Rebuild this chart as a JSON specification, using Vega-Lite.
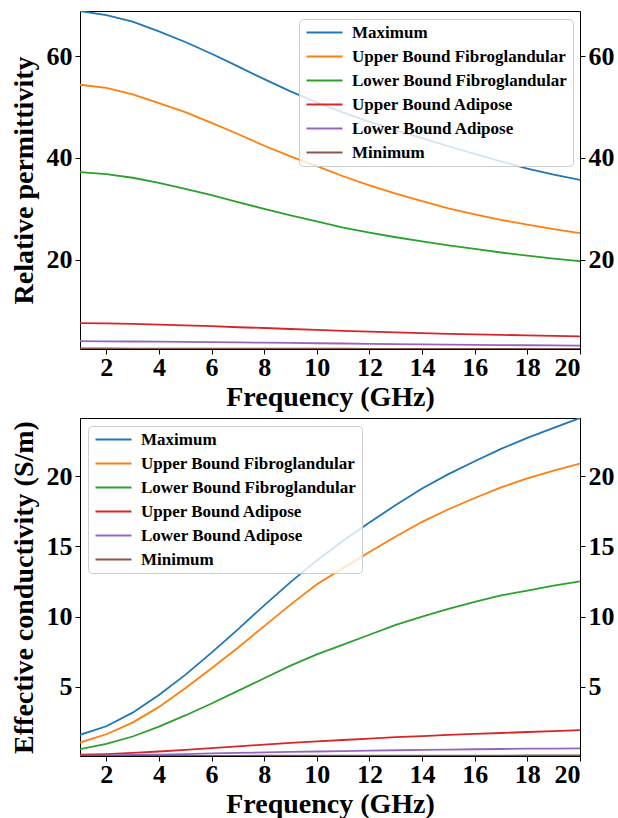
{
  "$schema": "https://vega.github.io/schema/vega-lite/v6.json",
  "padding": {"left": 9, "top": 10, "right": 5, "bottom": 0},
  "background": "white",
  "config": {
    "font": "Liberation Serif",
    "view": {"stroke": "black", "strokeWidth": 1},
    "axis": {"labelFont": "Liberation Serif", "labelFontSize": 26, "labelFontWeight": "bold", "labelColor": "black",
             "titleFont": "Liberation Serif", "titleFontSize": 28, "titleFontWeight": "bold", "titleColor": "black",
             "domainColor": "black", "tickColor": "black", "tickSize": 5, "grid": false, "labelPadding": 3},
    "axisX": {"titlePadding": 3, "labelPadding": 0},
    "axisLeft": {"titlePadding": 8},
    "legend": {"labelFont": "Liberation Serif", "labelFontSize": 17, "labelFontWeight": "bold", "labelColor": "black", "labelLimit": 0,
               "symbolType": "M-3,0H3", "symbolSize": 144, "symbolStrokeWidth": 1.8, "symbolOffset": 12, "labelOffset": 19, "rowPadding": 6,
               "padding": 5, "fillColor": "rgba(255,255,255,0.8)", "strokeColor": "#cccccc", "cornerRadius": 4, "symbolOpacity": 1}
  },
  "datasets": {
    "perm": [
      {"freq":1,"series":"Maximum","value":68.9},{"freq":2,"series":"Maximum","value":68.1},{"freq":3,"series":"Maximum","value":66.8},{"freq":4,"series":"Maximum","value":64.9},{"freq":5,"series":"Maximum","value":62.8},{"freq":6,"series":"Maximum","value":60.5},{"freq":7,"series":"Maximum","value":58.0},{"freq":8,"series":"Maximum","value":55.5},{"freq":9,"series":"Maximum","value":53.1},{"freq":10,"series":"Maximum","value":50.9},{"freq":11,"series":"Maximum","value":48.9},{"freq":12,"series":"Maximum","value":47.1},{"freq":13,"series":"Maximum","value":45.4},{"freq":14,"series":"Maximum","value":43.9},{"freq":15,"series":"Maximum","value":42.3},{"freq":16,"series":"Maximum","value":40.8},{"freq":17,"series":"Maximum","value":39.3},{"freq":18,"series":"Maximum","value":37.9},{"freq":19,"series":"Maximum","value":36.7},{"freq":20,"series":"Maximum","value":35.7},
      {"freq":1,"series":"Upper Bound Fibroglandular","value":54.4},{"freq":2,"series":"Upper Bound Fibroglandular","value":53.8},{"freq":3,"series":"Upper Bound Fibroglandular","value":52.5},{"freq":4,"series":"Upper Bound Fibroglandular","value":50.8},{"freq":5,"series":"Upper Bound Fibroglandular","value":49.0},{"freq":6,"series":"Upper Bound Fibroglandular","value":46.9},{"freq":7,"series":"Upper Bound Fibroglandular","value":44.7},{"freq":8,"series":"Upper Bound Fibroglandular","value":42.4},{"freq":9,"series":"Upper Bound Fibroglandular","value":40.3},{"freq":10,"series":"Upper Bound Fibroglandular","value":38.4},{"freq":11,"series":"Upper Bound Fibroglandular","value":36.4},{"freq":12,"series":"Upper Bound Fibroglandular","value":34.6},{"freq":13,"series":"Upper Bound Fibroglandular","value":33.0},{"freq":14,"series":"Upper Bound Fibroglandular","value":31.5},{"freq":15,"series":"Upper Bound Fibroglandular","value":30.1},{"freq":16,"series":"Upper Bound Fibroglandular","value":28.9},{"freq":17,"series":"Upper Bound Fibroglandular","value":27.8},{"freq":18,"series":"Upper Bound Fibroglandular","value":26.9},{"freq":19,"series":"Upper Bound Fibroglandular","value":26.0},{"freq":20,"series":"Upper Bound Fibroglandular","value":25.2},
      {"freq":1,"series":"Lower Bound Fibroglandular","value":37.2},{"freq":2,"series":"Lower Bound Fibroglandular","value":36.8},{"freq":3,"series":"Lower Bound Fibroglandular","value":36.1},{"freq":4,"series":"Lower Bound Fibroglandular","value":35.1},{"freq":5,"series":"Lower Bound Fibroglandular","value":33.9},{"freq":6,"series":"Lower Bound Fibroglandular","value":32.7},{"freq":7,"series":"Lower Bound Fibroglandular","value":31.3},{"freq":8,"series":"Lower Bound Fibroglandular","value":30.0},{"freq":9,"series":"Lower Bound Fibroglandular","value":28.7},{"freq":10,"series":"Lower Bound Fibroglandular","value":27.5},{"freq":11,"series":"Lower Bound Fibroglandular","value":26.3},{"freq":12,"series":"Lower Bound Fibroglandular","value":25.3},{"freq":13,"series":"Lower Bound Fibroglandular","value":24.4},{"freq":14,"series":"Lower Bound Fibroglandular","value":23.6},{"freq":15,"series":"Lower Bound Fibroglandular","value":22.8},{"freq":16,"series":"Lower Bound Fibroglandular","value":22.1},{"freq":17,"series":"Lower Bound Fibroglandular","value":21.4},{"freq":18,"series":"Lower Bound Fibroglandular","value":20.8},{"freq":19,"series":"Lower Bound Fibroglandular","value":20.2},{"freq":20,"series":"Lower Bound Fibroglandular","value":19.7},
      {"freq":1,"series":"Upper Bound Adipose","value":7.5},{"freq":2,"series":"Upper Bound Adipose","value":7.45},{"freq":3,"series":"Upper Bound Adipose","value":7.35},{"freq":4,"series":"Upper Bound Adipose","value":7.2},{"freq":5,"series":"Upper Bound Adipose","value":7.05},{"freq":6,"series":"Upper Bound Adipose","value":6.9},{"freq":7,"series":"Upper Bound Adipose","value":6.7},{"freq":8,"series":"Upper Bound Adipose","value":6.55},{"freq":9,"series":"Upper Bound Adipose","value":6.35},{"freq":10,"series":"Upper Bound Adipose","value":6.2},{"freq":11,"series":"Upper Bound Adipose","value":6.0},{"freq":12,"series":"Upper Bound Adipose","value":5.85},{"freq":13,"series":"Upper Bound Adipose","value":5.7},{"freq":14,"series":"Upper Bound Adipose","value":5.55},{"freq":15,"series":"Upper Bound Adipose","value":5.4},{"freq":16,"series":"Upper Bound Adipose","value":5.3},{"freq":17,"series":"Upper Bound Adipose","value":5.2},{"freq":18,"series":"Upper Bound Adipose","value":5.1},{"freq":19,"series":"Upper Bound Adipose","value":5.0},{"freq":20,"series":"Upper Bound Adipose","value":4.9},
      {"freq":1,"series":"Lower Bound Adipose","value":3.95},{"freq":2,"series":"Lower Bound Adipose","value":3.93},{"freq":3,"series":"Lower Bound Adipose","value":3.9},{"freq":4,"series":"Lower Bound Adipose","value":3.86},{"freq":5,"series":"Lower Bound Adipose","value":3.82},{"freq":6,"series":"Lower Bound Adipose","value":3.77},{"freq":7,"series":"Lower Bound Adipose","value":3.72},{"freq":8,"series":"Lower Bound Adipose","value":3.67},{"freq":9,"series":"Lower Bound Adipose","value":3.61},{"freq":10,"series":"Lower Bound Adipose","value":3.55},{"freq":11,"series":"Lower Bound Adipose","value":3.5},{"freq":12,"series":"Lower Bound Adipose","value":3.44},{"freq":13,"series":"Lower Bound Adipose","value":3.39},{"freq":14,"series":"Lower Bound Adipose","value":3.34},{"freq":15,"series":"Lower Bound Adipose","value":3.29},{"freq":16,"series":"Lower Bound Adipose","value":3.25},{"freq":17,"series":"Lower Bound Adipose","value":3.2},{"freq":18,"series":"Lower Bound Adipose","value":3.16},{"freq":19,"series":"Lower Bound Adipose","value":3.13},{"freq":20,"series":"Lower Bound Adipose","value":3.1},
      {"freq":1,"series":"Minimum","value":2.52},{"freq":2,"series":"Minimum","value":2.52},{"freq":3,"series":"Minimum","value":2.51},{"freq":4,"series":"Minimum","value":2.51},{"freq":5,"series":"Minimum","value":2.5},{"freq":6,"series":"Minimum","value":2.5},{"freq":7,"series":"Minimum","value":2.49},{"freq":8,"series":"Minimum","value":2.49},{"freq":9,"series":"Minimum","value":2.48},{"freq":10,"series":"Minimum","value":2.48},{"freq":11,"series":"Minimum","value":2.47},{"freq":12,"series":"Minimum","value":2.46},{"freq":13,"series":"Minimum","value":2.46},{"freq":14,"series":"Minimum","value":2.45},{"freq":15,"series":"Minimum","value":2.45},{"freq":16,"series":"Minimum","value":2.44},{"freq":17,"series":"Minimum","value":2.43},{"freq":18,"series":"Minimum","value":2.43},{"freq":19,"series":"Minimum","value":2.42},{"freq":20,"series":"Minimum","value":2.42}
    ],
    "cond": [
      {"freq":1,"series":"Maximum","value":1.57},{"freq":2,"series":"Maximum","value":2.18},{"freq":3,"series":"Maximum","value":3.15},{"freq":4,"series":"Maximum","value":4.41},{"freq":5,"series":"Maximum","value":5.84},{"freq":6,"series":"Maximum","value":7.43},{"freq":7,"series":"Maximum","value":9.09},{"freq":8,"series":"Maximum","value":10.8},{"freq":9,"series":"Maximum","value":12.45},{"freq":10,"series":"Maximum","value":14.0},{"freq":11,"series":"Maximum","value":15.4},{"freq":12,"series":"Maximum","value":16.7},{"freq":13,"series":"Maximum","value":17.95},{"freq":14,"series":"Maximum","value":19.12},{"freq":15,"series":"Maximum","value":20.15},{"freq":16,"series":"Maximum","value":21.07},{"freq":17,"series":"Maximum","value":21.95},{"freq":18,"series":"Maximum","value":22.73},{"freq":19,"series":"Maximum","value":23.45},{"freq":20,"series":"Maximum","value":24.15},
      {"freq":1,"series":"Upper Bound Fibroglandular","value":1.02},{"freq":2,"series":"Upper Bound Fibroglandular","value":1.61},{"freq":3,"series":"Upper Bound Fibroglandular","value":2.44},{"freq":4,"series":"Upper Bound Fibroglandular","value":3.56},{"freq":5,"series":"Upper Bound Fibroglandular","value":4.89},{"freq":6,"series":"Upper Bound Fibroglandular","value":6.31},{"freq":7,"series":"Upper Bound Fibroglandular","value":7.78},{"freq":8,"series":"Upper Bound Fibroglandular","value":9.32},{"freq":9,"series":"Upper Bound Fibroglandular","value":10.85},{"freq":10,"series":"Upper Bound Fibroglandular","value":12.3},{"freq":11,"series":"Upper Bound Fibroglandular","value":13.45},{"freq":12,"series":"Upper Bound Fibroglandular","value":14.6},{"freq":13,"series":"Upper Bound Fibroglandular","value":15.7},{"freq":14,"series":"Upper Bound Fibroglandular","value":16.75},{"freq":15,"series":"Upper Bound Fibroglandular","value":17.65},{"freq":16,"series":"Upper Bound Fibroglandular","value":18.45},{"freq":17,"series":"Upper Bound Fibroglandular","value":19.2},{"freq":18,"series":"Upper Bound Fibroglandular","value":19.85},{"freq":19,"series":"Upper Bound Fibroglandular","value":20.4},{"freq":20,"series":"Upper Bound Fibroglandular","value":20.9},
      {"freq":1,"series":"Lower Bound Fibroglandular","value":0.55},{"freq":2,"series":"Lower Bound Fibroglandular","value":0.92},{"freq":3,"series":"Lower Bound Fibroglandular","value":1.45},{"freq":4,"series":"Lower Bound Fibroglandular","value":2.15},{"freq":5,"series":"Lower Bound Fibroglandular","value":2.95},{"freq":6,"series":"Lower Bound Fibroglandular","value":3.8},{"freq":7,"series":"Lower Bound Fibroglandular","value":4.7},{"freq":8,"series":"Lower Bound Fibroglandular","value":5.6},{"freq":9,"series":"Lower Bound Fibroglandular","value":6.5},{"freq":10,"series":"Lower Bound Fibroglandular","value":7.3},{"freq":11,"series":"Lower Bound Fibroglandular","value":8.0},{"freq":12,"series":"Lower Bound Fibroglandular","value":8.7},{"freq":13,"series":"Lower Bound Fibroglandular","value":9.4},{"freq":14,"series":"Lower Bound Fibroglandular","value":10.0},{"freq":15,"series":"Lower Bound Fibroglandular","value":10.55},{"freq":16,"series":"Lower Bound Fibroglandular","value":11.05},{"freq":17,"series":"Lower Bound Fibroglandular","value":11.5},{"freq":18,"series":"Lower Bound Fibroglandular","value":11.85},{"freq":19,"series":"Lower Bound Fibroglandular","value":12.2},{"freq":20,"series":"Lower Bound Fibroglandular","value":12.5},
      {"freq":1,"series":"Upper Bound Adipose","value":0.15},{"freq":2,"series":"Upper Bound Adipose","value":0.2},{"freq":3,"series":"Upper Bound Adipose","value":0.28},{"freq":4,"series":"Upper Bound Adipose","value":0.38},{"freq":5,"series":"Upper Bound Adipose","value":0.5},{"freq":6,"series":"Upper Bound Adipose","value":0.62},{"freq":7,"series":"Upper Bound Adipose","value":0.75},{"freq":8,"series":"Upper Bound Adipose","value":0.87},{"freq":9,"series":"Upper Bound Adipose","value":0.99},{"freq":10,"series":"Upper Bound Adipose","value":1.1},{"freq":11,"series":"Upper Bound Adipose","value":1.2},{"freq":12,"series":"Upper Bound Adipose","value":1.3},{"freq":13,"series":"Upper Bound Adipose","value":1.4},{"freq":14,"series":"Upper Bound Adipose","value":1.48},{"freq":15,"series":"Upper Bound Adipose","value":1.56},{"freq":16,"series":"Upper Bound Adipose","value":1.63},{"freq":17,"series":"Upper Bound Adipose","value":1.7},{"freq":18,"series":"Upper Bound Adipose","value":1.77},{"freq":19,"series":"Upper Bound Adipose","value":1.83},{"freq":20,"series":"Upper Bound Adipose","value":1.9},
      {"freq":1,"series":"Lower Bound Adipose","value":0.08},{"freq":2,"series":"Lower Bound Adipose","value":0.1},{"freq":3,"series":"Lower Bound Adipose","value":0.13},{"freq":4,"series":"Lower Bound Adipose","value":0.16},{"freq":5,"series":"Lower Bound Adipose","value":0.2},{"freq":6,"series":"Lower Bound Adipose","value":0.24},{"freq":7,"series":"Lower Bound Adipose","value":0.28},{"freq":8,"series":"Lower Bound Adipose","value":0.32},{"freq":9,"series":"Lower Bound Adipose","value":0.35},{"freq":10,"series":"Lower Bound Adipose","value":0.38},{"freq":11,"series":"Lower Bound Adipose","value":0.41},{"freq":12,"series":"Lower Bound Adipose","value":0.44},{"freq":13,"series":"Lower Bound Adipose","value":0.47},{"freq":14,"series":"Lower Bound Adipose","value":0.5},{"freq":15,"series":"Lower Bound Adipose","value":0.52},{"freq":16,"series":"Lower Bound Adipose","value":0.54},{"freq":17,"series":"Lower Bound Adipose","value":0.56},{"freq":18,"series":"Lower Bound Adipose","value":0.58},{"freq":19,"series":"Lower Bound Adipose","value":0.59},{"freq":20,"series":"Lower Bound Adipose","value":0.6},
      {"freq":1,"series":"Minimum","value":0.06},{"freq":2,"series":"Minimum","value":0.06},{"freq":3,"series":"Minimum","value":0.06},{"freq":4,"series":"Minimum","value":0.07},{"freq":5,"series":"Minimum","value":0.07},{"freq":6,"series":"Minimum","value":0.07},{"freq":7,"series":"Minimum","value":0.07},{"freq":8,"series":"Minimum","value":0.08},{"freq":9,"series":"Minimum","value":0.08},{"freq":10,"series":"Minimum","value":0.08},{"freq":11,"series":"Minimum","value":0.08},{"freq":12,"series":"Minimum","value":0.08},{"freq":13,"series":"Minimum","value":0.09},{"freq":14,"series":"Minimum","value":0.09},{"freq":15,"series":"Minimum","value":0.09},{"freq":16,"series":"Minimum","value":0.09},{"freq":17,"series":"Minimum","value":0.09},{"freq":18,"series":"Minimum","value":0.1},{"freq":19,"series":"Minimum","value":0.1},{"freq":20,"series":"Minimum","value":0.1}
    ]
  },
  "spacing": 69,
  "bounds": "flush",
  "resolve": {"scale": {"color": "independent"}, "legend": {"color": "independent"}},
  "vconcat": [
    {
      "width": 500, "height": 338,
      "layer": [
        {
          "data": {"name": "perm"},
          "mark": {"type": "line", "strokeWidth": 1.8, "clip": true},
          "encoding": {
            "x": {"field": "freq", "type": "quantitative", "scale": {"domain": [1, 20], "nice": false, "zero": false},
                  "axis": {"values": [2,4,6,8,10,12,14,16,18,20], "title": "Frequency (GHz)"}},
            "y": {"field": "value", "type": "quantitative", "scale": {"domain": [2.42, 68.9], "nice": false, "zero": false},
                  "axis": {"orient": "left", "values": [20, 40, 60], "title": "Relative permittivity"}},
            "color": {"field": "series", "type": "nominal",
                      "scale": {"domain": ["Maximum","Upper Bound Fibroglandular","Lower Bound Fibroglandular","Upper Bound Adipose","Lower Bound Adipose","Minimum"],
                                "range": ["#1f77b4","#ff7f0e","#2ca02c","#d62728","#9467bd","#8c564b"]},
                      "legend": {"title": null, "orient": "none", "legendX": 219, "legendY": 8}}
          }
        },
        {
          "data": {"name": "perm"},
          "mark": {"type": "point", "opacity": 0, "size": 0, "clip": true},
          "encoding": {
            "x": {"field": "freq", "type": "quantitative"},
            "y": {"field": "value", "type": "quantitative", "axis": {"orient": "right", "values": [20, 40, 60], "title": null}}
          }
        }
      ],
      "resolve": {"axis": {"y": "independent"}}
    },
    {
      "width": 500, "height": 338,
      "layer": [
        {
          "data": {"name": "cond"},
          "mark": {"type": "line", "strokeWidth": 1.8, "clip": true},
          "encoding": {
            "x": {"field": "freq", "type": "quantitative", "scale": {"domain": [1, 20], "nice": false, "zero": false},
                  "axis": {"values": [2,4,6,8,10,12,14,16,18,20], "title": "Frequency (GHz)"}},
            "y": {"field": "value", "type": "quantitative", "scale": {"domain": [0.06, 24.15], "nice": false, "zero": false},
                  "axis": {"orient": "left", "values": [5, 10, 15, 20], "title": "Effective conductivity (S/m)"}},
            "color": {"field": "series", "type": "nominal",
                      "scale": {"domain": ["Maximum","Upper Bound Fibroglandular","Lower Bound Fibroglandular","Upper Bound Adipose","Lower Bound Adipose","Minimum"],
                                "range": ["#1f77b4","#ff7f0e","#2ca02c","#d62728","#9467bd","#8c564b"]},
                      "legend": {"title": null, "orient": "none", "legendX": 8, "legendY": 8}}
          }
        },
        {
          "data": {"name": "cond"},
          "mark": {"type": "point", "opacity": 0, "size": 0, "clip": true},
          "encoding": {
            "x": {"field": "freq", "type": "quantitative"},
            "y": {"field": "value", "type": "quantitative", "axis": {"orient": "right", "values": [5, 10, 15, 20], "title": null}}
          }
        }
      ],
      "resolve": {"axis": {"y": "independent"}}
    }
  ]
}
